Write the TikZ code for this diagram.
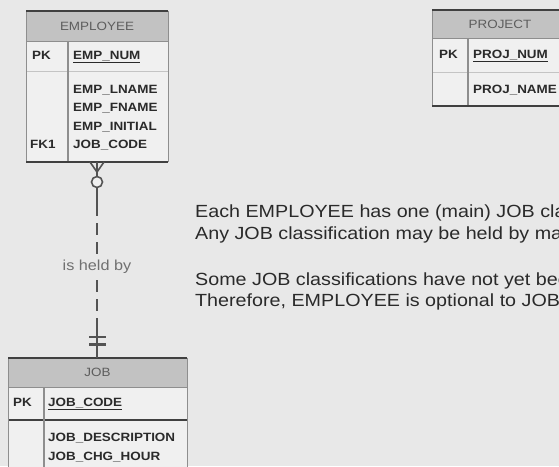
\documentclass[tikz,border=0pt]{standalone}
\usepackage{fontspec}
\setmainfont{Liberation Sans}
\newfontfamily\erf[FakeStretch=1.12]{Liberation Sans}
\usetikzlibrary{calc}
\definecolor{bg}{HTML}{E8E8E8}
\definecolor{boxbg}{HTML}{F0F0F0}
\definecolor{hdrbg}{HTML}{C2C2C2}
\definecolor{dark}{HTML}{404040}
\definecolor{side}{HTML}{8E8E8E}
\definecolor{faint}{HTML}{C4C4C4}
\definecolor{txt}{HTML}{2A2A2A}
\tikzset{
  region/.style={rectangle, inner sep=0pt, outer sep=0pt, draw=none},
  hdrfill/.style={region, fill=hdrbg},
  bodyfill/.style={region, fill=boxbg},
  edgedark/.style={draw=dark, line width=1.8pt},
  edgeside/.style={draw=side, line width=1pt},
  edgefaint/.style={draw=faint, line width=1pt},
  divider/.style={draw=side, line width=2pt},
  hdrtext/.style={inner sep=0pt, text=dark!85, font=\erf\fontsize{12}{14}\selectfont},
  attr/.style={inner sep=0pt, anchor=west, text=txt, text height=9pt, text depth=3pt, font=\erf\bfseries\fontsize{12}{14}\selectfont},
  note/.style={inner sep=0pt, anchor=base west, text=txt, font=\erf\fontsize{17.6}{22}\selectfont},
  rel/.style={draw=dark!90, line width=1.6pt},
  reldash/.style={rel, dash pattern=on 12pt off 7pt},
  rellabel/.style={fill=bg, inner sep=2pt, text=dark!75, font=\erf\fontsize{14.5}{16}\selectfont}
}
\begin{document}
\begin{tikzpicture}[x=1pt,y=-1pt]
\useasboundingbox (0,0) rectangle (559,466);
\clip (0,0) rectangle (559,466);
\fill[bg] (0,0) rectangle (559,466);

% ---------- EMPLOYEE ----------
\node[hdrfill, minimum width=142pt, minimum height=30pt] (empH) at (97,26) {};
\node[bodyfill, minimum width=142pt, minimum height=30pt] (empP) at (97,56) {};
\node[bodyfill, minimum width=142pt, minimum height=91pt] (empB) at (97,116.5) {};
\node[hdrtext] (empT) at (empH.center) {EMPLOYEE};
\draw[edgeside] (empH.south west) -- (empH.south east);
\draw[edgefaint] (empP.south west) -- (empP.south east);
\draw[divider] (68,41) -- (68,162);
\draw[edgeside] (empH.north west) -- (empB.south west);
\draw[edgeside] (empH.north east) -- (empB.south east);
\draw[edgedark] (empH.north west) -- (empH.north east);
\draw[edgedark] (empB.south west) -- (empB.south east);
\node[attr] (empPK) at (32,56) {PK};
\node[attr] (empNum) at (73,56) {\underline{EMP\_NUM}};
\node[attr] (empL) at (73,90) {EMP\_LNAME};
\node[attr] (empF) at (73,108.5) {EMP\_FNAME};
\node[attr] (empI) at (73,127) {EMP\_INITIAL};
\node[attr] (empFK) at (30,145.5) {FK1};
\node[attr] (empJ) at (73,145.5) {JOB\_CODE};

% ---------- PROJECT ----------
\node[hdrfill, minimum width=136pt, minimum height=28pt] (prjH) at (500,24) {};
\node[bodyfill, minimum width=136pt, minimum height=34pt] (prjP) at (500,55) {};
\node[bodyfill, minimum width=136pt, minimum height=34pt] (prjB) at (500,89) {};
\node[hdrtext] (prjT) at (prjH.center) {PROJECT};
\draw[edgeside] (prjH.south west) -- (prjH.south east);
\draw[edgefaint] (prjP.south west) -- (prjP.south east);
\draw[divider] (468,38) -- (468,106);
\draw[edgeside] (prjH.north west) -- (prjB.south west);
\draw[edgedark] (prjH.north west) -- (prjH.north east);
\draw[edgedark] (prjB.south west) -- (prjB.south east);
\node[attr] (prjPK) at (439,55) {PK};
\node[attr] (prjNum) at (473,55) {\underline{PROJ\_NUM}};
\node[attr] (prjName) at (473,90) {PROJ\_NAME};

% ---------- JOB ----------
\node[hdrfill, minimum width=179pt, minimum height=29pt] (jobH) at (97.5,372.5) {};
\node[bodyfill, minimum width=179pt, minimum height=33pt] (jobP) at (97.5,403.5) {};
\node[bodyfill, minimum width=179pt, minimum height=70pt] (jobB) at (97.5,455) {};
\node[hdrtext] (jobT) at (jobH.center) {JOB};
\draw[edgeside] (jobH.south west) -- (jobH.south east);
\draw[edgedark] (jobP.south west) -- (jobP.south east);
\draw[divider] (44,387) -- (44,490);
\draw[edgeside] (jobH.north west) -- (jobB.south west);
\draw[edgeside] (jobH.north east) -- (jobB.south east);
\draw[edgedark] (jobH.north west) -- (jobH.north east);
\node[attr] (jobPK) at (13,403) {PK};
\node[attr] (jobCode) at (48,403) {\underline{JOB\_CODE}};
\node[attr] (jobDesc) at (48,438.5) {JOB\_DESCRIPTION};
\node[attr] (jobChg) at (48,457.5) {JOB\_CHG\_HOUR};

% ---------- relationship ----------
\coordinate (fork) at ($(empB.south)+(0,10)$);
\coordinate (circ) at ($(empB.south)+(0,20)$);
\coordinate (s1) at ($(empB.south)+(0,42)$);
\coordinate (s2) at (97,330);
\coordinate (jt) at (97,358);
\draw[rel] ($(empB.south)+(-7,0)$) -- (fork) -- ($(empB.south)+(7,0)$);
\draw[rel] (empB.south) -- (fork);
\draw[rel] (fork) -- ($(circ)+(0,-5.5)$);
\draw[rel] ($(circ)+(0,5.5)$) -- (s1);
\draw[rel, fill=boxbg] (circ) circle[radius=5.5pt];
\draw[reldash] (s1) -- node[rellabel] (lbl) {is held by} (s2);
\draw[rel] (s2) -- (jt);
\draw[rel, line width=2.2pt] (89,337) -- (106,337);
\draw[rel, line width=2.2pt] (89,344.5) -- (106,344.5);

% ---------- notes ----------
\node[note] (n1) at (195,217) {Each EMPLOYEE has one (main) JOB classification.};
\node[note] (n2) at (195,239) {Any JOB classification may be held by many EMPLOYEEs.};
\node[note] (n3) at (195,285) {Some JOB classifications have not yet been assigned to an EMPLOYEE.};
\node[note] (n4) at (195,306) {Therefore, EMPLOYEE is optional to JOB.};
\end{tikzpicture}
\end{document}
